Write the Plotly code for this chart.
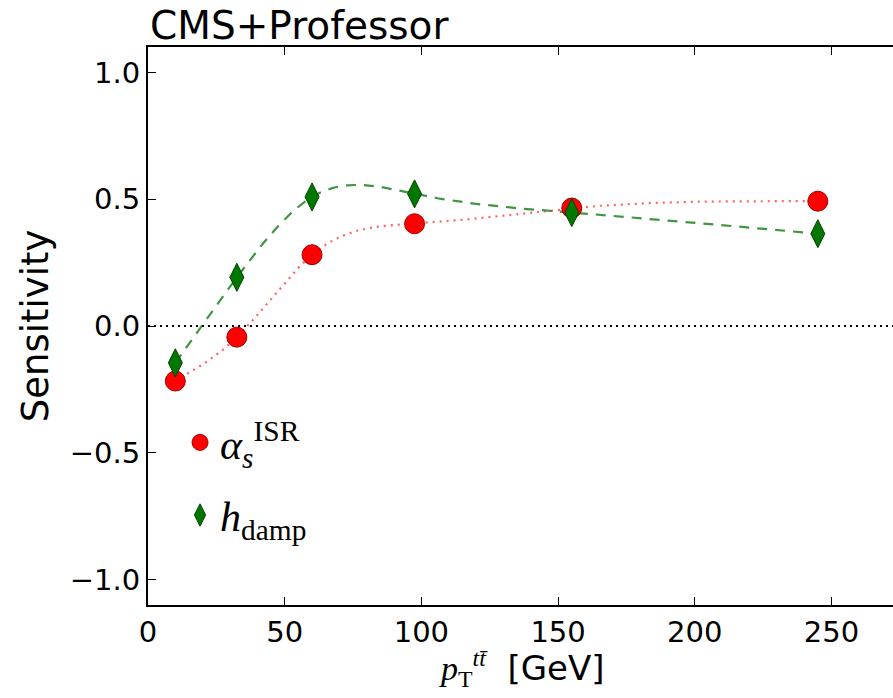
import numpy as np
import plotly.graph_objects as go

# ---- data ----
pt_centers = [10, 32.5, 60, 97.5, 155, 245]
sens_alpha_isr = [-0.217, -0.044, 0.281, 0.403, 0.465, 0.492]
sens_hdamp = [-0.145, 0.192, 0.509, 0.521, 0.447, 0.364]
x_ticks = [0, 50, 100, 150, 200, 250]
y_ticks = [-1.0, -0.5, 0.0, 0.5, 1.0]


def natural_spline(xs, ys, n=300):
    xs = np.asarray(xs, float)
    ys = np.asarray(ys, float)
    m = len(xs)
    h = np.diff(xs)
    A = np.zeros((m, m))
    b = np.zeros(m)
    A[0, 0] = 1
    A[-1, -1] = 1
    for i in range(1, m - 1):
        A[i, i - 1] = h[i - 1]
        A[i, i] = 2 * (h[i - 1] + h[i])
        A[i, i + 1] = h[i]
        b[i] = 6 * ((ys[i + 1] - ys[i]) / h[i] - (ys[i] - ys[i - 1]) / h[i - 1])
    M = np.linalg.solve(A, b)
    xf = np.linspace(xs[0], xs[-1], n)
    yf = np.empty_like(xf)
    for k, xv in enumerate(xf):
        i = min(np.searchsorted(xs, xv, side="right") - 1, m - 2)
        t1 = xs[i + 1] - xv
        t0 = xv - xs[i]
        yf[k] = (M[i] * t1 ** 3 + M[i + 1] * t0 ** 3) / (6 * h[i]) \
            + (ys[i] / h[i] - M[i] * h[i] / 6) * t1 \
            + (ys[i + 1] / h[i] - M[i + 1] * h[i] / 6) * t0
    return xf, yf


xa, ya = natural_spline(pt_centers, sens_alpha_isr)
xh, yh = natural_spline(pt_centers, sens_hdamp)

fig = go.Figure()

fig.add_trace(go.Scatter(x=xa, y=ya, mode="lines", showlegend=False,
                         hoverinfo="skip",
                         line=dict(color="rgba(255,60,60,0.8)", width=2.2, dash="2px,5px")))
fig.add_trace(go.Scatter(x=xh, y=yh, mode="lines", showlegend=False,
                         hoverinfo="skip",
                         line=dict(color="rgba(30,130,30,0.85)", width=2.2, dash="10px,8px")))

fig.add_trace(go.Scatter(
    x=pt_centers, y=sens_alpha_isr, mode="markers",
    name="<i>α</i><sub><i>s</i></sub><sup>ISR</sup>",
    legendgroup="a",
    marker=dict(symbol="circle", size=20, color="#ff0000",
                line=dict(color="#a00000", width=1))))
fig.add_trace(go.Scatter(
    x=pt_centers, y=sens_hdamp, mode="markers",
    name="<i>h</i><sub>damp</sub>",
    legendgroup="b",
    marker=dict(symbol="diamond-tall", size=20, color="#007800",
                line=dict(color="#004000", width=1))))

fig.add_hline(y=0, line=dict(color="black", width=2, dash="2px,4px"))

fig.update_layout(
    width=893, height=698,
    margin=dict(l=148, r=0, t=47, b=93),
    paper_bgcolor="white", plot_bgcolor="white",
    font=dict(family="DejaVu Sans", color="black", size=29),
    showlegend=True,
    legend=dict(x=0.043, y=0.352, xanchor="left", yanchor="top",
                bgcolor="rgba(0,0,0,0)", tracegroupgap=15,
                font=dict(family="Liberation Serif", size=42, color="black")),
    annotations=[
        dict(text="CMS+Professor", xref="paper", yref="paper",
             x=0, y=1, xanchor="left", yanchor="bottom", yshift=-3,
             showarrow=False,
             font=dict(family="DejaVu Sans", size=39, color="black")),
        dict(text="<span style='font-family:Liberation Serif'><i>p</i><sub>T</sub><sup><i>tt̄</i></sup></span>  [GeV]",
             xref="paper", yref="paper", x=0.502, y=-0.114,
             xanchor="center", yanchor="middle", showarrow=False,
             font=dict(family="DejaVu Sans", size=34, color="black")),
    ],
)

fig.update_xaxes(
    range=[0, 272.5], tickvals=x_ticks, ticktext=[str(v) for v in x_ticks],
    showgrid=False, zeroline=False,
    showline=True, linecolor="black", linewidth=2, mirror="ticks",
    ticks="inside", ticklen=8, tickwidth=1, tickcolor="black",
    tickfont=dict(size=29, family="DejaVu Sans"),
)
fig.update_yaxes(
    range=[-1.1, 1.1], tickvals=y_ticks, tickformat=".1f",
    showgrid=False, zeroline=False,
    showline=True, linecolor="black", linewidth=2, mirror=False,
    ticks="inside", ticklen=8, tickwidth=1, tickcolor="black",
    tickfont=dict(size=29, family="DejaVu Sans"),
    title=dict(text="Sensitivity", font=dict(size=37, family="DejaVu Sans"), standoff=10),
)

fig.write_html("out.html")
